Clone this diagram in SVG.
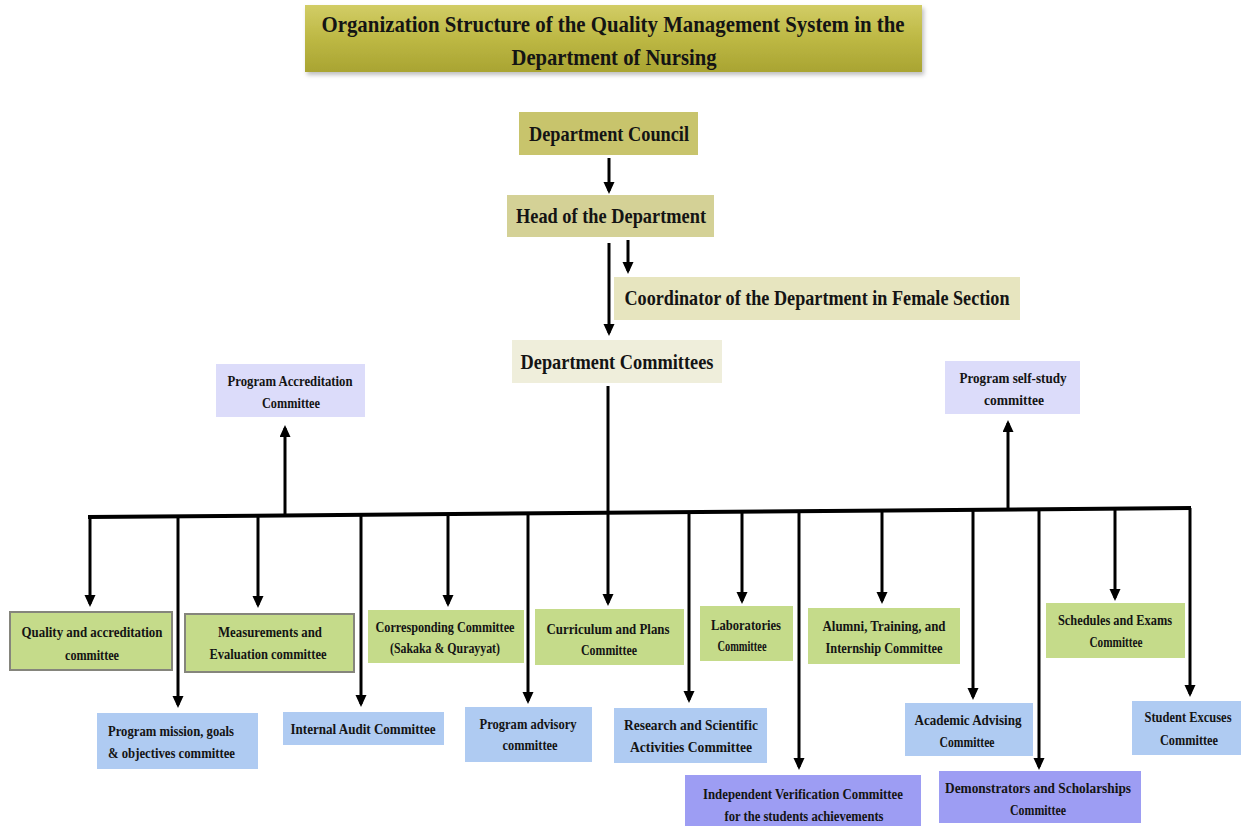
<svg xmlns="http://www.w3.org/2000/svg" width="1244" height="826" viewBox="0 0 1244 826">
<defs>
<linearGradient id="tg" x1="0" y1="0" x2="0" y2="1">
<stop offset="0" stop-color="#d2cd66"/>
<stop offset="0.5" stop-color="#bdb844"/>
<stop offset="1" stop-color="#a9a432"/>
</linearGradient>
<filter id="sh" x="-5%" y="-10%" width="110%" height="130%">
<feDropShadow dx="2" dy="3" stdDeviation="2" flood-color="#000" flood-opacity="0.25"/>
</filter>
<marker id="ah" markerUnits="userSpaceOnUse" markerWidth="13" markerHeight="12" refX="9" refY="5.5" orient="auto">
<path d="M0,0 L12,5.5 L0,11 z" fill="#000"/>
</marker>
</defs>
<style>
text{font-family:"Liberation Serif","Times New Roman",serif;font-weight:bold;fill:#141414;text-anchor:middle}
.big{font-size:21px}
.sm{font-size:14px}
.green{fill:#c5db8a}
.blue{fill:#afcbf2}
.purple{fill:#9d9df3}
.lav{fill:#dcdcfa}
.bord{stroke:#85857c;stroke-width:2}
.ln{stroke:#000;stroke-width:3;fill:none}
.arr{stroke:#000;stroke-width:3;fill:none;marker-end:url(#ah)}
</style>
<rect width="1244" height="826" fill="#fff"/>

<g id="title">
<rect x="305" y="5" width="617" height="67" fill="url(#tg)" filter="url(#sh)"/>
<text x="613" y="32" font-size="24" textLength="583" lengthAdjust="spacingAndGlyphs">Organization  Structure  of the Quality  Management System in the</text>
<text x="614" y="65" font-size="24" textLength="205" lengthAdjust="spacingAndGlyphs">Department  of Nursing</text>
</g>

<g id="department-council">
<rect x="519" y="112" width="179" height="43" fill="#c8c46c"/>
<text class="big" x="609" y="141" textLength="160" lengthAdjust="spacingAndGlyphs">Department Council</text>
</g>
<g id="head-of-department">
<rect x="507" y="195" width="207" height="42" fill="#d4d196"/>
<text class="big" x="611" y="223" textLength="190" lengthAdjust="spacingAndGlyphs">Head of the Department</text>
</g>
<g id="coordinator">
<rect x="614" y="277" width="406" height="43" fill="#e7e5bf"/>
<text class="big" x="817" y="305" textLength="385" lengthAdjust="spacingAndGlyphs">Coordinator of the Department in Female Section</text>
</g>
<g id="department-committees">
<rect x="512" y="340" width="210" height="43" fill="#efeedb"/>
<text class="big" x="617" y="369" textLength="193" lengthAdjust="spacingAndGlyphs">Department Committees</text>
</g>

<g id="program-accreditation">
<rect x="216" y="364" width="149" height="53" class="lav"/>
<text class="sm" x="290" y="386" textLength="125" lengthAdjust="spacingAndGlyphs">Program Accreditation</text>
<text class="sm" x="291" y="408" textLength="58" lengthAdjust="spacingAndGlyphs">Committee</text>
</g>
<g id="program-self-study">
<rect x="945" y="361" width="135" height="53" class="lav"/>
<text class="sm" x="1013" y="383" textLength="107" lengthAdjust="spacingAndGlyphs">Program self-study</text>
<text class="sm" x="1014" y="405" textLength="60" lengthAdjust="spacingAndGlyphs">committee</text>
</g>

<g id="quality-accreditation">
<rect x="10" y="612" width="162" height="58" class="green bord"/>
<text class="sm" x="92" y="637" textLength="141" lengthAdjust="spacingAndGlyphs">Quality and  accreditation</text>
<text class="sm" x="92" y="660" textLength="54" lengthAdjust="spacingAndGlyphs">committee</text>
</g>
<g id="measurements-evaluation">
<rect x="185" y="614" width="169" height="58" class="green bord"/>
<text class="sm" x="270" y="637" textLength="104" lengthAdjust="spacingAndGlyphs">Measurements and</text>
<text class="sm" x="268" y="659" textLength="117" lengthAdjust="spacingAndGlyphs">Evaluation  committee</text>
</g>
<g id="corresponding">
<rect x="368" y="610" width="156" height="53" class="green"/>
<text class="sm" x="445" y="632" textLength="139" lengthAdjust="spacingAndGlyphs">Corresponding Committee</text>
<text class="sm" x="445" y="653" textLength="110" lengthAdjust="spacingAndGlyphs">(Sakaka &amp; Qurayyat)</text>
</g>
<g id="curriculum-plans">
<rect x="535" y="609" width="149" height="56" class="green"/>
<text class="sm" x="608" y="634" textLength="123" lengthAdjust="spacingAndGlyphs">Curriculum and Plans</text>
<text class="sm" x="609" y="655" textLength="56" lengthAdjust="spacingAndGlyphs">Committee</text>
</g>
<g id="laboratories">
<rect x="700" y="606" width="93" height="55" class="green"/>
<text class="sm" x="746" y="630" textLength="70" lengthAdjust="spacingAndGlyphs">Laboratories</text>
<text class="sm" x="742" y="651" textLength="49" lengthAdjust="spacingAndGlyphs">Committee</text>
</g>
<g id="alumni-training">
<rect x="808" y="608" width="152" height="56" class="green"/>
<text class="sm" x="884" y="631" textLength="123" lengthAdjust="spacingAndGlyphs">Alumni, Training, and</text>
<text class="sm" x="884" y="653" textLength="117" lengthAdjust="spacingAndGlyphs">Internship Committee</text>
</g>
<g id="schedules-exams">
<rect x="1046" y="603" width="139" height="55" class="green"/>
<text class="sm" x="1115" y="625" textLength="114" lengthAdjust="spacingAndGlyphs">Schedules and Exams</text>
<text class="sm" x="1116" y="647" textLength="53" lengthAdjust="spacingAndGlyphs">Committee</text>
</g>

<g id="program-mission">
<rect x="97" y="713" width="161" height="56" class="blue"/>
<text class="sm" x="108" y="736" style="text-anchor:start" textLength="126" lengthAdjust="spacingAndGlyphs">Program mission, goals</text>
<text class="sm" x="108" y="758" style="text-anchor:start" textLength="127" lengthAdjust="spacingAndGlyphs">&amp; objectives  committee</text>
</g>
<g id="internal-audit">
<rect x="283" y="712" width="161" height="33" class="blue"/>
<text class="sm" x="363" y="734" textLength="145" lengthAdjust="spacingAndGlyphs">Internal Audit Committee</text>
</g>
<g id="program-advisory">
<rect x="465" y="707" width="127" height="55" class="blue"/>
<text class="sm" x="528" y="729" textLength="97" lengthAdjust="spacingAndGlyphs">Program advisory</text>
<text class="sm" x="530" y="750" textLength="55" lengthAdjust="spacingAndGlyphs">committee</text>
</g>
<g id="research-scientific">
<rect x="614" y="708" width="153" height="55" class="blue"/>
<text class="sm" x="691" y="730" textLength="134" lengthAdjust="spacingAndGlyphs">Research and Scientific</text>
<text class="sm" x="691" y="752" textLength="122" lengthAdjust="spacingAndGlyphs">Activities Committee</text>
</g>
<g id="academic-advising">
<rect x="905" y="703" width="128" height="53" class="blue"/>
<text class="sm" x="968" y="725" textLength="107" lengthAdjust="spacingAndGlyphs">Academic  Advising</text>
<text class="sm" x="967" y="747" textLength="55" lengthAdjust="spacingAndGlyphs">Committee</text>
</g>
<g id="student-excuses">
<rect x="1132" y="701" width="109" height="54" class="blue"/>
<text class="sm" x="1188" y="722" textLength="87" lengthAdjust="spacingAndGlyphs">Student Excuses</text>
<text class="sm" x="1189" y="745" textLength="58" lengthAdjust="spacingAndGlyphs">Committee</text>
</g>

<g id="independent-verification">
<rect x="685" y="775" width="236" height="51" class="purple"/>
<text class="sm" x="803" y="799" textLength="200" lengthAdjust="spacingAndGlyphs">Independent  Verification Committee</text>
<text class="sm" x="804" y="821" textLength="159" lengthAdjust="spacingAndGlyphs">for the students achievements</text>
</g>
<g id="demonstrators-scholarships">
<rect x="939" y="771" width="202" height="52" class="purple"/>
<text class="sm" x="1038" y="793" textLength="186" lengthAdjust="spacingAndGlyphs">Demonstrators  and Scholarships</text>
<text class="sm" x="1038" y="815" textLength="56" lengthAdjust="spacingAndGlyphs">Committee</text>
</g>

<g id="connectors">
<line class="arr" x1="609" y1="158" x2="609" y2="191"/>
<line class="arr" x1="609" y1="243" x2="609" y2="333"/>
<line class="arr" x1="628" y1="240" x2="628" y2="271"/>
<line class="ln" x1="608" y1="386" x2="608" y2="513"/>
<line x1="88" y1="517" x2="1191" y2="508" stroke="#000" stroke-width="4"/>
<line class="arr" x1="285" y1="515" x2="285" y2="428"/>
<line class="arr" x1="1008" y1="510" x2="1008" y2="423"/>
<line class="arr" x1="90" y1="517" x2="90" y2="604"/>
<line class="arr" x1="178" y1="516" x2="178" y2="705"/>
<line class="arr" x1="258" y1="516" x2="258" y2="605"/>
<line class="arr" x1="361" y1="515" x2="361" y2="704"/>
<line class="arr" x1="448" y1="514" x2="448" y2="604"/>
<line class="arr" x1="528" y1="513" x2="528" y2="701"/>
<line class="arr" x1="608" y1="513" x2="608" y2="603"/>
<line class="arr" x1="689" y1="512" x2="689" y2="700"/>
<line class="arr" x1="742" y1="512" x2="742" y2="601"/>
<line class="arr" x1="799" y1="511" x2="799" y2="767"/>
<line class="arr" x1="882" y1="511" x2="882" y2="601"/>
<line class="arr" x1="973" y1="510" x2="973" y2="697"/>
<line class="arr" x1="1039" y1="509" x2="1039" y2="767"/>
<line class="arr" x1="1115" y1="509" x2="1115" y2="598"/>
<line class="arr" x1="1190" y1="508" x2="1190" y2="694"/>
</g>
</svg>
